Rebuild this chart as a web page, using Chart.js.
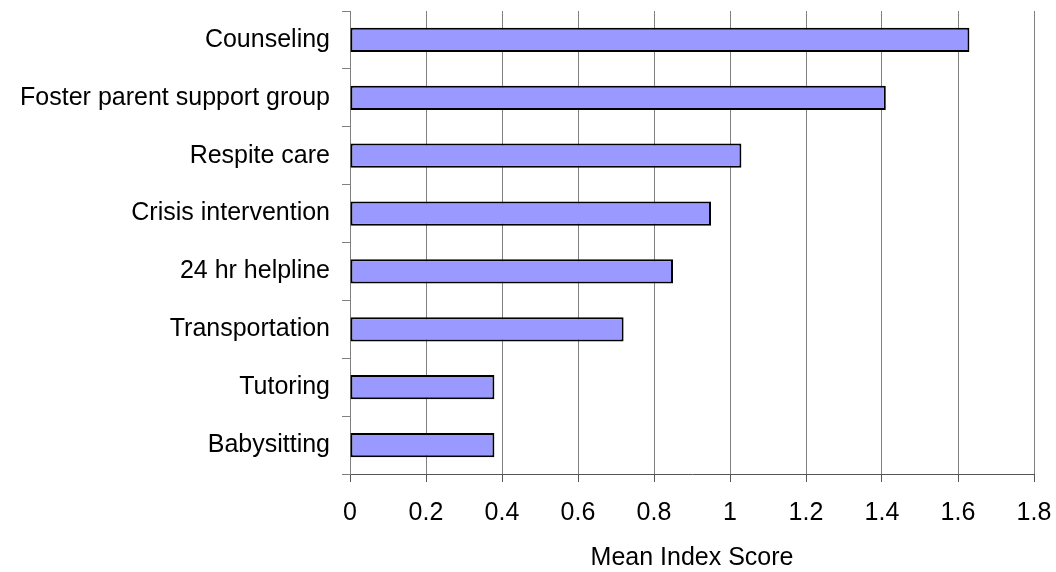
<!DOCTYPE html>
<html>
<head>
<meta charset="utf-8">
<script src="https://cdn.jsdelivr.net/npm/chart.js@4/dist/chart.umd.min.js"></script>
<style>
  html, body { margin: 0; padding: 0; background: #fff; }
  #wrap { width: 1056px; height: 572px; position: relative; }
</style>
</head>
<body>
<div id="wrap"><canvas id="chart"></canvas></div>
<script>
// --- Data ---
const categories = ['Counseling', 'Foster parent support group', 'Respite care', 'Crisis intervention',
                    '24 hr helpline', 'Transportation', 'Tutoring', 'Babysitting'];
const scores = [1.63, 1.41, 1.03, 0.95, 0.85, 0.72, 0.38, 0.38];
const xTicks = [0, 0.2, 0.4, 0.6, 0.8, 1, 1.2, 1.4, 1.6, 1.8];

Chart.defaults.font.family = '"Liberation Sans", Arial, sans-serif';
Chart.defaults.color = '#000';

new Chart(document.getElementById('chart'), {
    type: 'bar',
    data: {
        labels: categories,
        datasets: [{
            data: scores,
            backgroundColor: '#9999ff',
            borderColor: '#000',
            borderWidth: 2,
            borderSkipped: false,
            categoryPercentage: 0.42,
            barPercentage: 1
        }]
    },
    options: {
        indexAxis: 'y',
        responsive: true,
        maintainAspectRatio: false,
        animation: false,
        layout: { padding: { top: 11, right: 22, left: 0, bottom: 0 } },
        plugins: { legend: { display: false }, tooltip: { enabled: false } },
        scales: {
            x: {
                min: 0, max: 1.8,
                afterBuildTicks: axis => { axis.ticks = xTicks.map(v => ({ value: v })); },
                afterFit: axis => { axis.height = 98; axis.paddingLeft = 0; axis.paddingRight = 0; },
                grid: { color: '#808080', lineWidth: 1, tickLength: 8, tickColor: '#555' },
                border: { color: '#555', width: 1 },
                ticks: { font: { size: 25 }, padding: 16, callback: v => String(v) },
                title: { display: true, text: 'Mean Index Score', font: { size: 25 }, padding: { top: 19, bottom: -1 } }
            },
            y: {
                afterFit: axis => { axis.width = 350; axis.paddingTop = 0; axis.paddingBottom = 0; },
                grid: { offset: true, drawOnChartArea: false, tickLength: 8, color: '#808080' },
                border: { color: '#808080', width: 1 },
                ticks: { font: { size: 25 }, padding: 12 }
            }
        }
    }
});
</script>
</body>
</html>
